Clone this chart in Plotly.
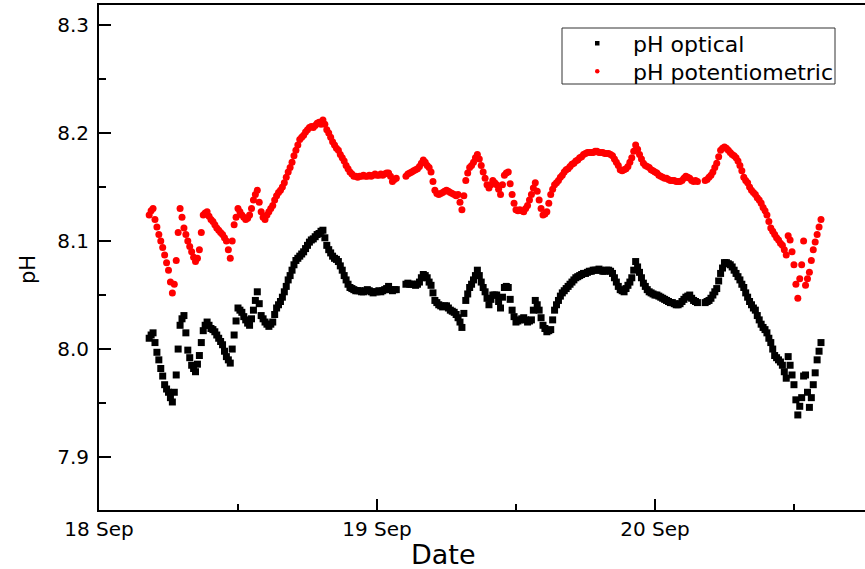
import pandas as pd
import plotly.graph_objects as go

# Sampling times (10-minute logger interval)
times = pd.date_range("2010-09-18 04:20", periods=349, freq="10min")

ph_potentiometric = [
    8.124, 8.128, 8.13, 8.12, 8.113, 8.106, 8.10, 8.094, 8.087, 8.08,
    8.073, 8.062, 8.052, 8.06, 8.082, 8.108, 8.13, 8.122, 8.112, 8.106,
    8.10, 8.095, 8.09, 8.085, 8.081, 8.084, 8.092, 8.108, 8.124, 8.126,
    8.127, 8.123, 8.12, 8.118, 8.115, 8.112, 8.11, 8.108, 8.106, 8.103,
    8.10, 8.092, 8.084, 8.10, 8.115, 8.122, 8.13, 8.127, 8.124, 8.122,
    8.12, 8.121, 8.124, 8.13, 8.138, 8.143, 8.147, 8.136, 8.127, 8.122,
    8.12, 8.124, 8.127, 8.13, 8.133, 8.138, 8.142, 8.145, 8.147, 8.15,
    8.154, 8.159, 8.164, 8.168, 8.173, 8.179, 8.184, 8.189, 8.194, 8.196,
    8.198, 8.201, 8.203, 8.205, 8.206, 8.205, 8.207, 8.209, 8.21, 8.208,
    8.212, 8.208, 8.203, 8.20, 8.196, 8.192, 8.189, 8.186, 8.184, 8.18,
    8.177, 8.174, 8.17, 8.167, 8.164, 8.162, 8.16, 8.16, 8.159, 8.16,
    8.16, 8.161, 8.16, 8.16, 8.161, 8.16, 8.161, 8.162, 8.161, 8.161,
    8.162, 8.161, 8.162, 8.163, 8.163, 8.16, 8.155, 8.157, 8.158, None,
    None, None, None, 8.16, 8.162, 8.163, 8.164, 8.165, 8.166, 8.167,
    8.169, 8.172, 8.175, 8.173, 8.17, 8.168, 8.164, 8.155, 8.147, 8.144,
    8.143, 8.144, 8.145, 8.146, 8.147, 8.146, 8.145, 8.144, 8.143, 8.142,
    8.143, 8.136, 8.129, 8.142, 8.156, 8.163, 8.168, 8.17, 8.173, 8.177,
    8.18, 8.176, 8.17, 8.164, 8.158, 8.152, 8.149, 8.152, 8.156, 8.154,
    8.152, 8.148, 8.143, 8.152, 8.161, 8.163, 8.164, 8.153, 8.143, 8.135,
    8.129, 8.128, 8.129, 8.128, 8.127, 8.13, 8.133, 8.138, 8.143, 8.149,
    8.154, 8.146, 8.138, 8.13, 8.124, 8.125, 8.127, 8.135, 8.143, 8.148,
    8.152, 8.154, 8.156, 8.159, 8.161, 8.164, 8.166, 8.167, 8.169, 8.171,
    8.172, 8.174, 8.175, 8.177, 8.178, 8.18, 8.181, 8.182, 8.182, 8.182,
    8.182, 8.183, 8.183, 8.182, 8.182, 8.182, 8.181, 8.181, 8.181, 8.18,
    8.179, 8.176, 8.173, 8.17, 8.166, 8.165, 8.166, 8.167, 8.169, 8.173,
    8.177, 8.183, 8.189, 8.185, 8.18, 8.176, 8.172, 8.17, 8.169, 8.168,
    8.166, 8.165, 8.164, 8.163, 8.161, 8.16, 8.159, 8.158, 8.158, 8.157,
    8.156, 8.156, 8.156, 8.155, 8.155, 8.155, 8.156, 8.158, 8.16, 8.159,
    8.158, 8.156, 8.155, 8.156, 8.155, None, None, None, 8.156, 8.157,
    8.159, 8.161, 8.164, 8.168, 8.172, 8.178, 8.184, 8.186, 8.187, 8.186,
    8.184, 8.182, 8.18, 8.179, 8.177, 8.174, 8.17, 8.165, 8.159, 8.156,
    8.154, 8.15, 8.147, 8.145, 8.143, 8.14, 8.138, 8.135, 8.131, 8.128,
    8.124, 8.118, 8.112, 8.109, 8.106, 8.103, 8.101, 8.098, 8.096, 8.092,
    8.087, 8.105, 8.101, 8.09, 8.078, 8.06, 8.047, 8.065, 8.078, 8.10,
    8.059, 8.065, 8.071, 8.082, 8.092, 8.099, 8.106, 8.113, 8.12,
]

ph_optical = [
    8.01, 8.013, 8.015, 8.006, 7.997, 7.99, 7.982, 7.975, 7.967, 7.963,
    7.96, 7.955, 7.951, 7.96, 7.976, 8.0, 8.022, 8.028, 8.031, 8.015,
    7.999, 7.992, 7.985, 7.982, 7.979, 7.986, 7.994, 8.006, 8.017, 8.022,
    8.025, 8.022, 8.019, 8.018, 8.016, 8.013, 8.01, 8.007, 8.004, 7.998,
    7.993, 7.99, 7.987, 8.0, 8.013, 8.026, 8.038, 8.036, 8.034, 8.03,
    8.027, 8.024, 8.022, 8.028, 8.036, 8.045, 8.053, 8.042, 8.031, 8.028,
    8.025, 8.023, 8.021, 8.023, 8.025, 8.032, 8.038, 8.041, 8.044, 8.048,
    8.053, 8.058, 8.064, 8.068, 8.073, 8.078, 8.082, 8.084, 8.086, 8.088,
    8.09, 8.093, 8.096, 8.099, 8.101, 8.102, 8.104, 8.106, 8.107, 8.109,
    8.11, 8.103, 8.096, 8.092, 8.089, 8.086, 8.084, 8.083, 8.081, 8.077,
    8.073, 8.068, 8.064, 8.06, 8.057, 8.056, 8.055, 8.054, 8.054, 8.054,
    8.053, 8.053, 8.054, 8.055, 8.054, 8.053, 8.052, 8.053, 8.053, 8.054,
    8.053, 8.054, 8.055, 8.056, 8.058, 8.055, 8.054, 8.055, 8.055, None,
    None, None, None, 8.06, 8.061, 8.06, 8.06, 8.06, 8.059, 8.06,
    8.062, 8.066, 8.069, 8.068, 8.066, 8.062, 8.059, 8.052, 8.045, 8.043,
    8.041, 8.04, 8.039, 8.04, 8.04, 8.038, 8.036, 8.035, 8.034, 8.032,
    8.029, 8.025, 8.02, 8.033, 8.045, 8.051, 8.057, 8.06, 8.064, 8.068,
    8.073, 8.068, 8.062, 8.057, 8.053, 8.047, 8.041, 8.046, 8.05, 8.05,
    8.05, 8.044, 8.038, 8.048, 8.057, 8.058, 8.057, 8.046, 8.036, 8.03,
    8.025, 8.026, 8.027, 8.028, 8.029, 8.027, 8.025, 8.026, 8.027, 8.036,
    8.045, 8.041, 8.036, 8.029, 8.022, 8.019, 8.016, 8.017, 8.018, 8.027,
    8.036, 8.041, 8.045, 8.049, 8.052, 8.054, 8.056, 8.058, 8.06, 8.062,
    8.064, 8.066, 8.067, 8.068, 8.069, 8.07, 8.07, 8.071, 8.072, 8.072,
    8.073, 8.073, 8.073, 8.074, 8.073, 8.072, 8.072, 8.073, 8.073, 8.072,
    8.07, 8.066, 8.062, 8.058, 8.055, 8.054, 8.053, 8.056, 8.059, 8.062,
    8.066, 8.073, 8.081, 8.076, 8.071, 8.066, 8.061, 8.058, 8.055, 8.053,
    8.052, 8.051, 8.05, 8.05, 8.049, 8.048, 8.047, 8.046, 8.045, 8.044,
    8.043, 8.043, 8.042, 8.041, 8.041, 8.042, 8.044, 8.046, 8.048, 8.049,
    8.05, 8.047, 8.045, 8.044, 8.043, None, None, None, 8.043, 8.044,
    8.045, 8.047, 8.05, 8.053, 8.056, 8.063, 8.07, 8.075, 8.08, 8.08,
    8.079, 8.078, 8.076, 8.073, 8.07, 8.067, 8.064, 8.06, 8.057, 8.052,
    8.048, 8.044, 8.041, 8.038, 8.036, 8.031, 8.027, 8.023, 8.02, 8.018,
    8.015, 8.01, 8.006, 8.0, 7.994, 7.992, 7.99, 7.988, 7.985, 7.979,
    7.973, 7.993, 7.985, 7.976, 7.967, 7.953, 7.939, 7.947, 7.955, 7.975,
    7.976, 7.96, 7.946, 7.955, 7.967, 7.978, 7.99, 7.998, 8.006,
]

y_ticks = [7.9, 8.0, 8.1, 8.2, 8.3]
x_ticks = ["2010-09-18", "2010-09-19", "2010-09-20"]
x_tick_labels = ["18 Sep", "19 Sep", "20 Sep"]
series_names = ["pH optical", "pH potentiometric"]
series_colors = ["black", "#ff0000"]

FONT = "DejaVu Sans, sans-serif"

fig = go.Figure()
fig.add_trace(go.Scatter(
    x=times, y=ph_optical, mode="markers", name=series_names[0],
    marker=dict(symbol="square", size=7, color=series_colors[0], line=dict(width=0)),
    showlegend=False,
))
fig.add_trace(go.Scatter(
    x=times, y=ph_potentiometric, mode="markers", name=series_names[1],
    marker=dict(symbol="circle", size=7, color=series_colors[1], line=dict(width=0)),
    showlegend=False,
))

# plot area in pixels: x 99..865, y 5..510
def px(xp):
    return (xp - 99) / 766.0

def py(yp):
    return (510 - yp) / 505.0

shapes = [
    # legend box
    dict(type="rect", xref="paper", yref="paper",
         x0=px(562), x1=px(835), y0=py(84), y1=py(28),
         line=dict(color="#333333", width=1), fillcolor="white", layer="above"),
    # legend symbols
    dict(type="rect", xref="paper", yref="paper",
         x0=px(595), x1=px(599.5), y0=py(45.5), y1=py(41),
         line=dict(width=0), fillcolor=series_colors[0], layer="above"),
    dict(type="circle", xref="paper", yref="paper",
         x0=px(595), x1=px(599.5), y0=py(73.5), y1=py(69),
         line=dict(width=0), fillcolor=series_colors[1], layer="above"),
]

annotations = [
    dict(text=series_names[0], xref="paper", yref="paper", x=px(631), y=py(45),
         xanchor="left", yanchor="middle", showarrow=False,
         font=dict(family=FONT, size=22, color="black")),
    dict(text=series_names[1], xref="paper", yref="paper", x=px(631), y=py(72),
         xanchor="left", yanchor="middle", showarrow=False,
         font=dict(family=FONT, size=22, color="black")),
    dict(text="Date", xref="paper", yref="paper", x=px(443), y=py(554),
         xanchor="center", yanchor="middle", showarrow=False,
         font=dict(family=FONT, size=27, color="black")),
    dict(text="pH", xref="paper", yref="paper", x=px(28), y=py(270),
         xanchor="center", yanchor="middle", showarrow=False, textangle=-90,
         font=dict(family=FONT, size=21, color="black")),
]

fig.update_layout(
    width=865, height=569,
    margin=dict(l=99, r=0, t=5, b=59, autoexpand=False),
    plot_bgcolor="white", paper_bgcolor="white",
    font=dict(family=FONT, size=20, color="black"),
    showlegend=False,
    shapes=shapes,
    annotations=annotations,
    xaxis=dict(
        range=["2010-09-18 00:00", "2010-09-20 18:08"],
        tickvals=x_ticks, ticktext=x_tick_labels,
        ticks="inside", ticklen=11, tickwidth=2, tickcolor="black",
        minor=dict(dtick=43200000, ticks="inside", ticklen=6, tickwidth=2, tickcolor="black"),
        showline=True, linecolor="black", linewidth=2, mirror=True,
        showgrid=False, zeroline=False, automargin=False,
        tickfont=dict(family=FONT, size=20, color="black"),
    ),
    yaxis=dict(
        range=[7.851, 8.3185],
        tickvals=y_ticks, tickformat=".1f",
        ticks="inside", ticklen=12, tickwidth=2, tickcolor="black",
        minor=dict(dtick=0.05, tick0=7.9, ticks="inside", ticklen=7, tickwidth=2, tickcolor="black"),
        showline=True, linecolor="black", linewidth=2, mirror=False,
        showgrid=False, zeroline=False, automargin=False,
        tickfont=dict(family=FONT, size=20, color="black"),
        ticklabelstandoff=4,
    ),
)

fig.write_html("out.html", config={"displayModeBar": False},
               post_script="document.body.style.margin='0px';")
